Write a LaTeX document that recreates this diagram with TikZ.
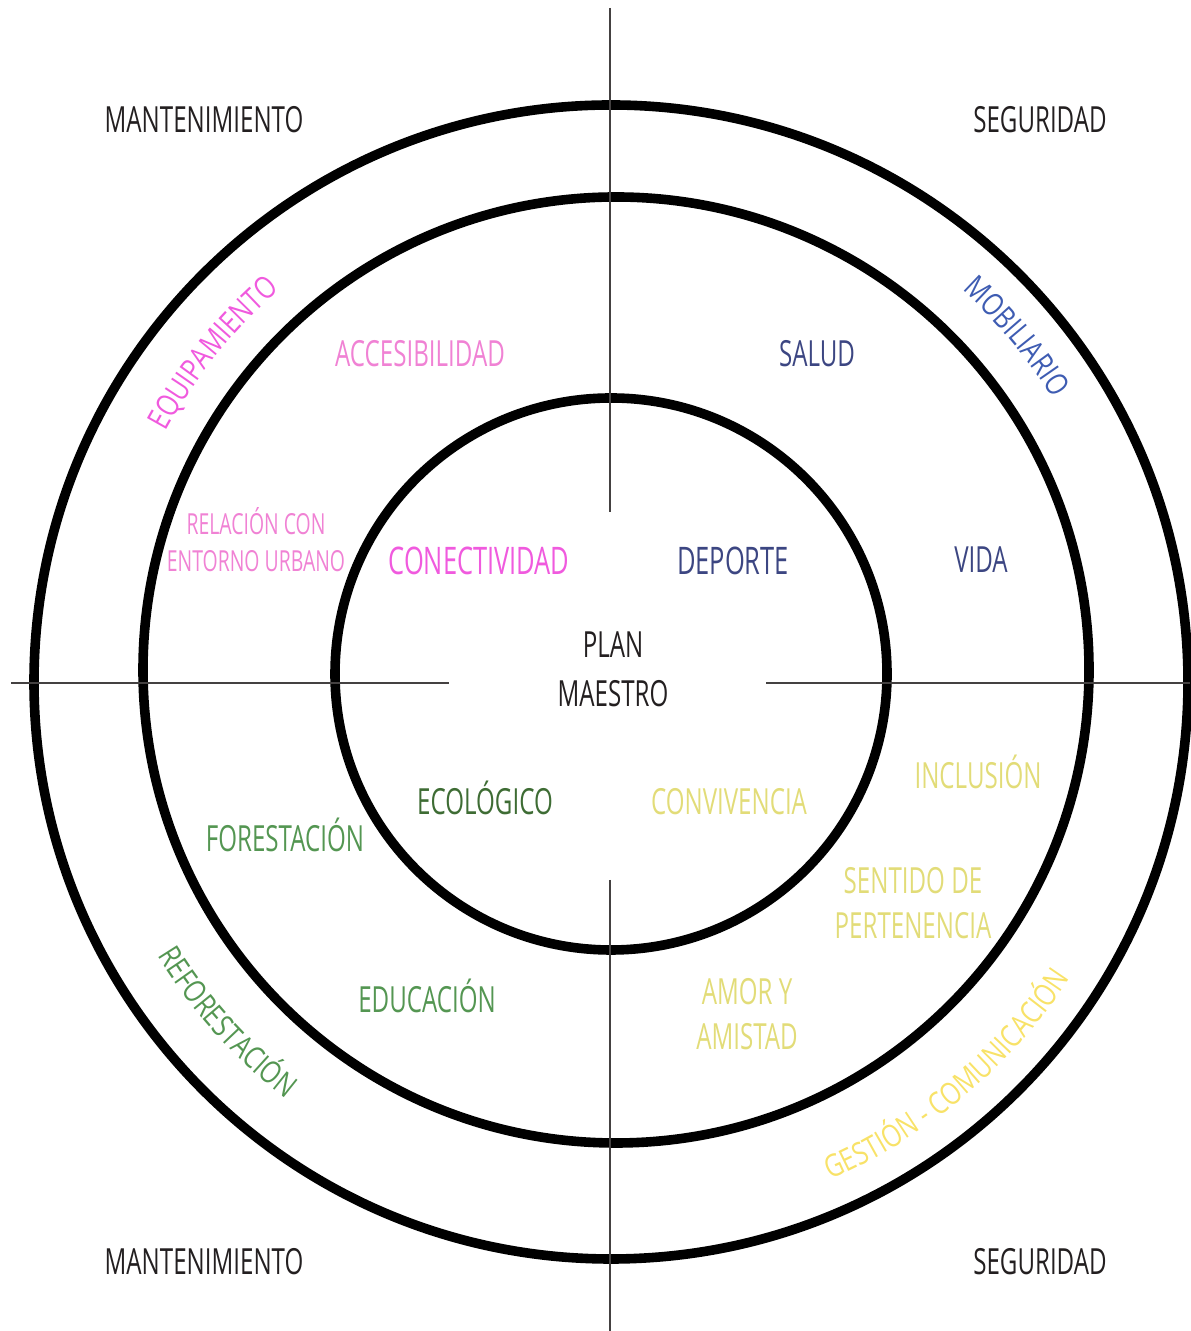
\documentclass[tikz,border=0pt]{standalone}
\usepackage{fontspec}
\setmainfont[FakeStretch=0.67]{Open Sans}
\newfontfamily\arcfont[FakeStretch=0.8]{Open Sans}
\usepackage{tikz}
\usetikzlibrary{decorations.text}
\definecolor{tinta}{RGB}{35,31,32}
\definecolor{rosa}{RGB}{240,90,222}
\definecolor{rosaclaro}{RGB}{240,130,212}
\definecolor{azul}{RGB}{62,92,178}
\definecolor{marino}{RGB}{60,70,130}
\definecolor{verdeosc}{RGB}{62,108,52}
\definecolor{verde}{RGB}{84,150,82}
\definecolor{caqui}{RGB}{226,220,120}
\definecolor{amarillo}{RGB}{248,226,104}

\begin{document}
\begin{tikzpicture}[
    x=0.5pt, y=0.5pt,
    ring/.style={draw=black, line width=4.8pt},
    eje/.style={draw=tinta!85, line width=1pt},
    lbl/.style={anchor=base, inner sep=0pt, align=center,
      font=\fontsize{18}{22.5}\selectfont},
    big/.style={lbl, font=\fontsize{19}{22.5}\selectfont},
    small/.style={lbl, font=\fontsize{14.5}{18.5}\selectfont},
    arctext/.style 2 args={decorate, decoration={text along path,
      text align=center, text={|\arcfont\fontsize{15.5}{16}\selectfont\color{#2}|#1}}}
  ]
    \useasboundingbox (0,0) rectangle (1190,1331);

    % circulos
    \draw[ring] (611,649) circle[radius=577];
    \draw[ring] (616,661) circle[radius=473];
    \draw[ring] (611,657) circle[radius=276];

    % ejes
    \draw[eje] (610,1323) -- (610,819);
    \draw[eje] (610,451) -- (610,0);
    \draw[eje] (11,648) -- (449,648);
    \draw[eje] (766,648) -- (1190,648);

    % esquinas
    \node[lbl, tinta] (mant1) at (204,1198) {MANTENIMIENTO};
    \node[lbl, tinta] (seg1) at (1040,1198) {SEGURIDAD};
    \node[lbl, tinta] (mant2) at (204,56) {MANTENIMIENTO};
    \node[lbl, tinta] (seg2) at (1040,56) {SEGURIDAD};

    % centro
    \node[lbl, tinta, font=\fontsize{18}{24.5}\selectfont] (plan) at (613,624) {PLAN\\MAESTRO};

    % anillo interior
    \node[big, rosa] (conec) at (479,756) {CONECTIVIDAD};
    \node[big, marino] (depor) at (733,756) {DEPORTE};
    \node[lbl, verdeosc] (ecol) at (485,516) {ECOLÓGICO};
    \node[lbl, caqui] (conv) at (729,516) {CONVIVENCIA};

    % anillo medio
    \node[lbl, rosaclaro] (acces) at (420,964) {ACCESIBILIDAD};
    \node[lbl, marino] (salud) at (817,964) {SALUD};
    \node[small, rosaclaro] (rel) at (256,759) {RELACIÓN CON\\ENTORNO URBANO};
    \node[lbl, marino] (vida) at (981,758) {VIDA};
    \node[lbl, caqui] (incl) at (978,542) {INCLUSIÓN};
    \node[lbl, verde] (fores) at (285,479) {FORESTACIÓN};
    \node[lbl, caqui] (sent) at (913,392) {SENTIDO DE\\PERTENENCIA};
    \node[lbl, verde] (educ) at (427,318) {EDUCACIÓN};
    \node[lbl, caqui] (amor) at (747,281) {AMOR Y\\AMISTAD};

    % anillo exterior, texto curvo
    \path[shift={(612,655)}, arctext={EQUIPAMIENTO}{rosa}]
      (171:509) arc[start angle=171, end angle=111, radius=509];
    \path[shift={(612,655)}, arctext={MOBILIARIO}{azul}]
      (64:521) arc[start angle=64, end angle=16, radius=521];
    \path[shift={(612,655)}, arctext={REFORESTACIÓN}{verde}]
      (198:534) arc[start angle=198, end angle=246, radius=534];
    \path[shift={(612,655)}, arctext={GESTIÓN - COMUNICACIÓN}{amarillo}]
      (280:549) arc[start angle=280, end angle=340, radius=549];
\end{tikzpicture}
\end{document}
